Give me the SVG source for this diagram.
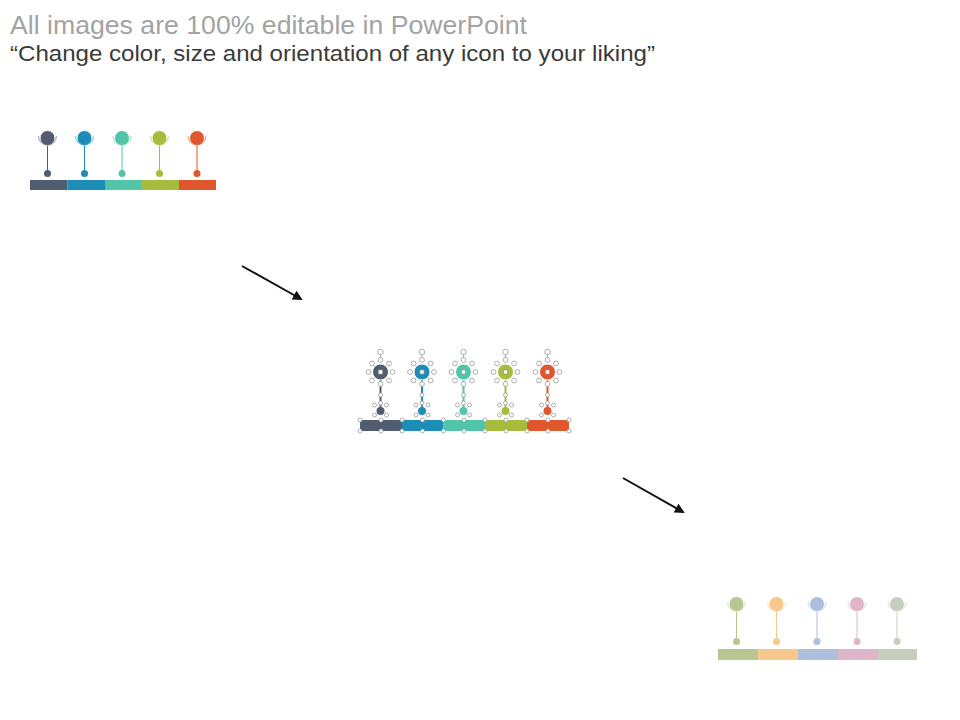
<svg xmlns="http://www.w3.org/2000/svg" width="960" height="720" viewBox="0 0 960 720">
<style>
.t1{font-family:"Liberation Sans",Arial,sans-serif;font-size:26.5px;fill:#a3a3a3}
.t2{font-family:"Liberation Sans",Arial,sans-serif;font-size:22.5px;fill:#3a3a3a}
.h{fill:#fff;stroke:#9a9a9a;stroke-width:0.8}
.ring{fill:none;stroke-width:1.3;stroke-opacity:0.45}
.arrow{stroke:#111;stroke-width:2;fill:none}
</style>
<defs>
<marker id="ah" viewBox="0 0 10 10" refX="8" refY="5" markerWidth="5" markerHeight="5" orient="auto">
<path d="M0,0 L10,5 L0,10 z" fill="#111"/>
</marker>
<g id="hx">
<circle class="h" cx="0" cy="-12" r="2.4"/><circle class="h" cx="8.5" cy="-8.5" r="2.4"/><circle class="h" cx="12" cy="0" r="2.4"/><circle class="h" cx="8.5" cy="8.5" r="2.4"/><circle class="h" cx="0" cy="12" r="2.4"/><circle class="h" cx="-8.5" cy="8.5" r="2.4"/><circle class="h" cx="-12" cy="0" r="2.4"/><circle class="h" cx="-8.5" cy="-8.5" r="2.4"/>
<line x1="0" y1="-14" x2="0" y2="-18" stroke="#9a9a9a" stroke-width="0.8"/><circle class="h" cx="0" cy="-20" r="2.8"/>
</g>
<g id="hs">
<circle class="h" cx="-6" cy="-6" r="2"/><circle class="h" cx="6" cy="-6" r="2"/><circle class="h" cx="-6" cy="4" r="2"/><circle class="h" cx="6" cy="4" r="2"/><circle class="h" cx="0" cy="-8" r="2"/>
</g>
</defs>
<text class="t1" x="10" y="34" textLength="517" lengthAdjust="spacingAndGlyphs">All images are 100% editable in PowerPoint</text>
<text class="t2" x="10" y="61" textLength="645" lengthAdjust="spacingAndGlyphs">“Change color, size and orientation of any icon to your liking”</text>

<g id="timeline-top">
<rect x="30" y="180" width="37.5" height="10" fill="#505d71"/>
<rect x="67.5" y="180" width="37.5" height="10" fill="#1b8db6"/>
<rect x="105" y="180" width="37" height="10" fill="#52c4aa"/>
<rect x="142" y="180" width="37" height="10" fill="#a7bc3d"/>
<rect x="179" y="180" width="37" height="10" fill="#e0572d"/>
<g stroke="#505d71" fill="#505d71"><line x1="47.5" y1="145" x2="47.5" y2="173"/><circle cx="47.5" cy="173.5" r="3.5" stroke="none"/><circle cx="47.5" cy="138" r="7.5" stroke="#fff" stroke-width="1"/><path class="ring" d="M38.5,136 A9,9 0 0 0 56.5,136"/></g>
<g stroke="#1b8db6" fill="#1b8db6"><line x1="84.5" y1="145" x2="84.5" y2="173"/><circle cx="84.5" cy="173.5" r="3.5" stroke="none"/><circle cx="84.5" cy="138" r="7.5" stroke="#fff" stroke-width="1"/><path class="ring" d="M75.5,136 A9,9 0 0 0 93.5,136"/></g>
<g stroke="#52c4aa" fill="#52c4aa"><line x1="122" y1="145" x2="122" y2="173"/><circle cx="122" cy="173.5" r="3.5" stroke="none"/><circle cx="122" cy="138" r="7.5" stroke="#fff" stroke-width="1"/><path class="ring" d="M113,136 A9,9 0 0 0 131,136"/></g>
<g stroke="#a7bc3d" fill="#a7bc3d"><line x1="159.5" y1="145" x2="159.5" y2="173"/><circle cx="159.5" cy="173.5" r="3.5" stroke="none"/><circle cx="159.5" cy="138" r="7.5" stroke="#fff" stroke-width="1"/><path class="ring" d="M150.5,136 A9,9 0 0 0 168.5,136"/></g>
<g stroke="#e0572d" fill="#e0572d"><line x1="197" y1="145" x2="197" y2="173"/><circle cx="197" cy="173.5" r="3.5" stroke="none"/><circle cx="197" cy="138" r="7.5" stroke="#fff" stroke-width="1"/><path class="ring" d="M188,136 A9,9 0 0 0 206,136"/></g>
</g>

<g id="connectors">
<line class="arrow" x1="242" y1="266" x2="301" y2="299" marker-end="url(#ah)"/>
<line class="arrow" x1="623" y1="478" x2="683" y2="512" marker-end="url(#ah)"/>
</g>

<g id="timeline-middle">
<rect x="360" y="420" width="42" height="11" fill="#505d71"/>
<rect x="402" y="420" width="41.5" height="11" fill="#1b8db6"/>
<rect x="443.5" y="420" width="41.5" height="11" fill="#52c4aa"/>
<rect x="485" y="420" width="42" height="11" fill="#a7bc3d"/>
<rect x="527" y="420" width="42" height="11" fill="#e0572d"/>
<g stroke="#505d71" fill="#505d71"><line x1="380.5" y1="380" x2="380.5" y2="410" stroke-width="2"/><circle cx="380.5" cy="411" r="4" stroke="none"/><circle cx="380.5" cy="372" r="8" stroke="#fff" stroke-width="1"/></g>
<g stroke="#1b8db6" fill="#1b8db6"><line x1="422" y1="380" x2="422" y2="410" stroke-width="2"/><circle cx="422" cy="411" r="4" stroke="none"/><circle cx="422" cy="372" r="8" stroke="#fff" stroke-width="1"/></g>
<g stroke="#52c4aa" fill="#52c4aa"><line x1="463.5" y1="380" x2="463.5" y2="410" stroke-width="2"/><circle cx="463.5" cy="411" r="4" stroke="none"/><circle cx="463.5" cy="372" r="8" stroke="#fff" stroke-width="1"/></g>
<g stroke="#a7bc3d" fill="#a7bc3d"><line x1="505.5" y1="380" x2="505.5" y2="410" stroke-width="2"/><circle cx="505.5" cy="411" r="4" stroke="none"/><circle cx="505.5" cy="372" r="8" stroke="#fff" stroke-width="1"/></g>
<g stroke="#e0572d" fill="#e0572d"><line x1="547.5" y1="380" x2="547.5" y2="410" stroke-width="2"/><circle cx="547.5" cy="411" r="4" stroke="none"/><circle cx="547.5" cy="372" r="8" stroke="#fff" stroke-width="1"/></g>
<g id="handles">
<use href="#hx" x="380.5" y="372"/><use href="#hx" x="422" y="372"/><use href="#hx" x="463.5" y="372"/><use href="#hx" x="505.5" y="372"/><use href="#hx" x="547.5" y="372"/>
<use href="#hs" x="380.5" y="411"/><use href="#hs" x="422" y="411"/><use href="#hs" x="463.5" y="411"/><use href="#hs" x="505.5" y="411"/><use href="#hs" x="547.5" y="411"/>
<g class="h">
<rect x="378.5" y="370" width="4" height="4" fill="#fff"/><rect x="420" y="370" width="4" height="4" fill="#fff"/><rect x="461.5" y="370" width="4" height="4" fill="#fff"/><rect x="503.5" y="370" width="4" height="4" fill="#fff"/><rect x="545.5" y="370" width="4" height="4" fill="#fff"/>
<circle cx="380.5" cy="395" r="2"/><circle cx="422" cy="395" r="2"/><circle cx="463.5" cy="395" r="2"/><circle cx="505.5" cy="395" r="2"/><circle cx="547.5" cy="395" r="2"/>
<circle cx="360" cy="420" r="2"/><circle cx="381" cy="420" r="2"/><circle cx="402" cy="420" r="2"/><circle cx="422.5" cy="420" r="2"/><circle cx="443.5" cy="420" r="2"/><circle cx="464" cy="420" r="2"/><circle cx="485" cy="420" r="2"/><circle cx="506" cy="420" r="2"/><circle cx="527" cy="420" r="2"/><circle cx="548" cy="420" r="2"/><circle cx="569" cy="420" r="2"/>
<circle cx="360" cy="431" r="2"/><circle cx="381" cy="431" r="2"/><circle cx="402" cy="431" r="2"/><circle cx="422.5" cy="431" r="2"/><circle cx="443.5" cy="431" r="2"/><circle cx="464" cy="431" r="2"/><circle cx="485" cy="431" r="2"/><circle cx="506" cy="431" r="2"/><circle cx="527" cy="431" r="2"/><circle cx="548" cy="431" r="2"/><circle cx="569" cy="431" r="2"/>
</g>
</g>
</g>

<g id="timeline-bottom">
<rect x="718" y="649" width="40" height="11" fill="#b8c690"/>
<rect x="758" y="649" width="40" height="11" fill="#f6c88c"/>
<rect x="798" y="649" width="40" height="11" fill="#adbfdc"/>
<rect x="838" y="649" width="40" height="11" fill="#deb5c9"/>
<rect x="878" y="649" width="39" height="11" fill="#c6cfbb"/>
<g stroke="#b8c690" fill="#b8c690"><line x1="736.5" y1="612" x2="736.5" y2="641"/><circle cx="736.5" cy="641.5" r="3.5" stroke="none"/><circle cx="736.5" cy="604" r="7.5" stroke="#fff" stroke-width="1"/><path class="ring" d="M727.5,602 A9,9 0 0 0 745.5,602"/></g>
<g stroke="#f6c88c" fill="#f6c88c"><line x1="776.5" y1="612" x2="776.5" y2="641"/><circle cx="776.5" cy="641.5" r="3.5" stroke="none"/><circle cx="776.5" cy="604" r="7.5" stroke="#fff" stroke-width="1"/><path class="ring" d="M767.5,602 A9,9 0 0 0 785.5,602"/></g>
<g stroke="#adbfdc" fill="#adbfdc"><line x1="817" y1="612" x2="817" y2="641"/><circle cx="817" cy="641.5" r="3.5" stroke="none"/><circle cx="817" cy="604" r="7.5" stroke="#fff" stroke-width="1"/><path class="ring" d="M808,602 A9,9 0 0 0 826,602"/></g>
<g stroke="#deb5c9" fill="#deb5c9"><line x1="857" y1="612" x2="857" y2="641"/><circle cx="857" cy="641.5" r="3.5" stroke="none"/><circle cx="857" cy="604" r="7.5" stroke="#fff" stroke-width="1"/><path class="ring" d="M848,602 A9,9 0 0 0 866,602"/></g>
<g stroke="#c6cfbb" fill="#c6cfbb"><line x1="897" y1="612" x2="897" y2="641"/><circle cx="897" cy="641.5" r="3.5" stroke="none"/><circle cx="897" cy="604" r="7.5" stroke="#fff" stroke-width="1"/><path class="ring" d="M888,602 A9,9 0 0 0 906,602"/></g>
</g>
</svg>
